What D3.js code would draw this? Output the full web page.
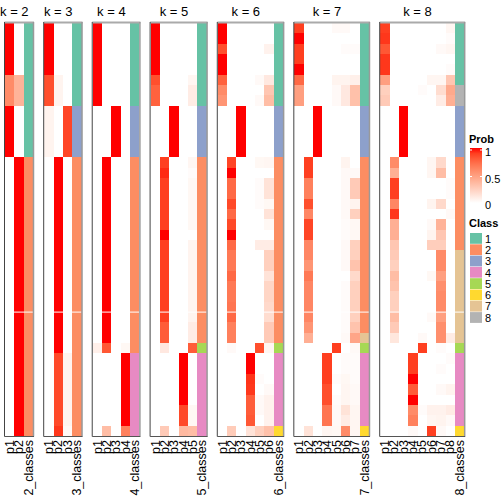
<!DOCTYPE html>
<html><head><meta charset="utf-8">
<script src="https://cdn.jsdelivr.net/npm/d3@7"></script>
<style>body{margin:0;background:#fff}svg{display:block}text{font-family:"Liberation Sans",Arial,sans-serif}</style>
</head><body><svg id="c" width="504" height="504"></svg>
<script>
const ks = [2,3,4,5,6,7,8];
const classColors = ["#66C2A5","#FC8D62","#8DA0CB","#E78AC3","#A6D854","#FFD92F","#E5C494","#B3B3B3"];
const classLabels = ["1","2","3","4","5","6","7","8"];
const probTicks = [0,0.5,1];

function rep(row,n){return Array.from({length:n},()=>row.slice());}

const memb2 = [].concat(
  rep([1,0],5), rep([0.6,0.4],3), rep([1,0],5), rep([0,1],27));
const memb3 = [].concat(
  rep([1,0,0],5), rep([0.85,0.06,0],3), rep([0.06,0,0.88],5), rep([0,1,0],19),
  rep([0,0.87,0.06],7), [[0,0.92,0.03]]);
const memb4 = [].concat(
  rep([1,0,0,0],8), rep([0,0,1,0],5), rep([0,1,0,0],18), [[0.08,0.82,0,0.04]],
  rep([0,0,0,1],7), [[0,0.35,0,0.65]]);
const memb5 = [
  [1,0,0,0,0],[1,0,0,0,0],[1,0,0,0,0],[1,0,0,0,0],[1,0,0,0,0],
  [0.85,0,0,0,0.05],[0.78,0,0,0,0.1],[0.78,0,0,0,0.1],
  [0,0,1,0,0],[0,0,1,0,0],[0,0,1,0,0],[0,0,1,0,0],[0,0,1,0,0],
  [0,0.9,0,0,0.05],[0,0.95,0,0,0.02],[0,0.9,0,0,0.04],[0,0.9,0,0,0.04],[0,0.9,0,0,0.04],
  [0,0.9,0,0,0.04],[0,0.9,0,0,0.04],[0,1,0,0,0],[0,0.9,0,0,0.06],[0,0.9,0,0,0.06],
  [0,0.9,0,0,0.06],[0,0.9,0,0,0.06],[0,0.9,0,0,0.06],[0,0.9,0,0,0.06],[0,0.9,0,0,0.06],
  [0,0.9,0,0,0.06],[0,0.8,0,0,0.1],[0,0.8,0,0,0.1],
  [0,0.12,0,0,0.8],
  [0,0,0,1,0],[0,0,0,1,0],[0,0,0,1,0],[0,0,0,1,0],[0,0,0,1,0],
  [0,0,0,0.87,0.04],[0,0,0,0.87,0.04],
  [0,0.28,0,0.37,0.35]];
const memb6 = [
  [1,0,0,0,0,0],[1,0,0,0,0,0],[0.85,0,0,0,0,0.07],[1,0,0,0,0,0],[1,0,0,0,0,0],
  [0.78,0,0,0,0.03,0.12],[0.6,0,0,0,0,0.3],[0.55,0,0,0,0.03,0.35],
  [0,0,1,0,0,0],[0,0,1,0,0,0],[0,0,1,0,0,0],[0,0,1,0,0,0],[0,0,1,0,0,0],
  [0,0.88,0,0,0.04,0.05],[0,1,0,0,0,0],[0,0.75,0,0,0.02,0.15],[0,0.75,0,0,0.02,0.15],
  [0,0.87,0,0,0.02,0.04],[0,0.75,0,0,0,0.15],[0,0.87,0,0,0,0.04],[0,1,0,0,0,0],
  [0,0.75,0,0,0.1,0.1],[0,0.68,0,0,0,0.25],[0,0.68,0,0,0,0.25],[0,0.75,0,0,0,0.15],
  [0,0.68,0,0,0,0.22],[0,0.68,0,0,0,0.22],[0,0.7,0,0,0,0.2],[0,0.75,0,0,0,0.18],
  [0,0.65,0,0,0,0.28],[0,0.65,0,0,0,0.28],
  [0,0.03,0,0,0.85,0.05],
  [0,0,0,1,0,0],[0,0,0,1,0,0],[0,0,0,0.93,0.02,0],[0,0,0,0.92,0,0.03],
  [0,0,0,0.8,0.03,0.07],[0,0,0,0.8,0.03,0.07],[0,0,0,0.82,0,0.07],
  [0,0.27,0,0.15,0.25,0.33]];
const memb7 = [
  [0.9,0,0,0,0.03,0.03,0],[1,0,0,0,0,0,0],[0.9,0,0,0,0,0.02,0.02],[0.9,0,0,0,0,0,0],[1,0,0,0,0,0,0],
  [0.75,0,0,0,0.06,0.06,0.08],[0.5,0,0,0,0.03,0.12,0.33],[0.5,0,0,0,0.03,0.12,0.33],
  [0,0,1,0,0,0,0],[0,0,1,0,0,0,0],[0,0,1,0,0,0,0],[0,0,1,0,0,0,0],[0,0,1,0,0,0,0],
  [0,0.9,0,0,0,0.06,0],[0,0.9,0,0,0,0.03,0.03],[0,0.65,0,0,0,0.03,0.28],[0,0.65,0,0,0,0.03,0.28],
  [0,0.85,0,0,0,0.03,0.06],[0,0.62,0,0,0,0.03,0.25],[0,0.88,0,0,0,0.02,0.04],[0,0.88,0,0,0,0.02,0.04],
  [0,0.62,0,0,0,0.03,0.25],[0,0.62,0,0,0,0.03,0.25],[0,0.55,0,0,0,0.03,0.32],[0,0.68,0,0,0,0,0.2],
  [0,0.62,0,0,0,0.02,0.25],[0,0.62,0,0,0,0.02,0.25],[0,0.62,0,0,0,0.02,0.25],[0,0.62,0,0,0,0.02,0.25],
  [0,0.55,0,0,0,0.02,0.32],[0,0.42,0,0,0,0.03,0.47],
  [0,0,0,0,0.9,0,0.03],
  [0,0,0,0.9,0,0.02,0.02],[0,0,0,0.9,0,0.02,0.02],[0,0,0,0.9,0.02,0.04,0.02],[0,0,0,0.85,0,0.05,0.03],
  [0,0,0,0.85,0.02,0.05,0.03],[0,0,0,0.7,0.03,0.15,0.05],[0,0,0,0.7,0.03,0.1,0.05],
  [0,0.15,0,0.05,0.04,0.6,0.05]];
const memb8 = [
  [0.9,0,0,0,0,0,0,0.05],[0.92,0,0,0,0,0,0,0.02],[0.82,0,0,0,0,0,0.03,0.05],[0.92,0,0,0,0,0,0,0],[0.92,0,0,0,0,0,0,0.02],
  [0.5,0,0,0,0,0.05,0.05,0.3],[0.25,0,0,0,0.02,0,0.18,0.45],[0.28,0,0,0,0,0,0.1,0.42],
  [0,0,1,0,0,0,0,0],[0,0,1,0,0,0,0,0],[0,0,1,0,0,0,0,0],[0,0,1,0,0,0,0,0],[0,0,1,0,0,0,0,0],
  [0,0.6,0,0,0,0.05,0.2,0],[0,0.42,0,0,0,0.05,0.35,0],[0,0.9,0,0,0,0,0,0.02],[0,0.9,0,0,0,0,0,0.02],
  [0,0.62,0,0,0,0.06,0.2,0],[0,0.92,0,0,0,0,0,0.03],[0,0.42,0,0,0,0.03,0.4,0],[0,0.42,0,0,0,0.06,0.3,0],
  [0,0.3,0,0,0,0.26,0.26,0],
  [0,0.28,0,0,0,0,0.6,0],[0,0.25,0,0,0,0,0.6,0],[0,0.35,0,0,0,0.04,0.5,0],[0,0.32,0,0,0,0,0.58,0],
  [0,0.25,0,0,0,0,0.6,0],[0,0.25,0,0,0,0,0.6,0],[0,0.35,0,0,0,0.03,0.5,0],[0,0.28,0,0,0,0,0.58,0],
  [0,0.13,0,0,0.03,0,0.58,0.1],
  [0,0,0,0,0.9,0,0.02,0],
  [0,0,0,0.9,0,0,0,0.02],[0,0,0,0.9,0,0,0.02,0],[0,0,0,1,0,0,0,0],[0,0,0,0.8,0,0,0.03,0.06],
  [0,0,0,1,0,0,0,0],[0,0,0,0.6,0.02,0.07,0.07,0.1],[0,0,0,0.65,0,0.05,0.06,0.03],
  [0,0,0,0.03,0,0.9,0.03,0]];

function seq(parts){const a=[];parts.forEach(([c,n])=>{for(let i=0;i<n;i++)a.push(c);});return a;}
const class2 = seq([[1,13],[2,27]]);
const class3 = seq([[1,8],[3,5],[2,27]]);
const class4 = seq([[1,8],[3,5],[2,19],[4,8]]);
const class5 = seq([[1,8],[3,5],[2,18],[5,1],[4,8]]);
const class6 = seq([[1,8],[3,5],[2,18],[5,1],[4,7],[6,1]]);
const class7 = seq([[1,8],[3,5],[2,17],[7,1],[5,1],[4,7],[6,1]]);
const class8 = seq([[1,6],[8,2],[3,5],[2,9],[7,9],[5,1],[4,7],[6,1]]);

const membs = {2:memb2,3:memb3,4:memb4,5:memb5,6:memb6,7:memb7,8:memb8};
const classes = {2:class2,3:class3,4:class4,5:class5,6:class6,7:class7,8:class8};

const svg = d3.select("#c");
const nRows = 40;
const y = d3.scaleBand().domain(d3.range(nRows)).range([23, 436]);
const colW = 9.333, gap = 11.2, x0 = 5;
const probColor = d3.scaleLinear().domain([0,1]).range(["#ffffff","#ff0000"]).interpolate(d3.interpolateLab);

let cur = x0;
ks.forEach(k => {
  const cols = d3.range(1,k+1).map(i=>"p"+i).concat([k+"_classes"]);
  const w = cols.length*colW;
  const x = d3.scaleBand().domain(cols).range([cur, cur+w]);
  const g = svg.append("g");
  const data = membs[k];
  data.forEach((row, r) => {
    row.forEach((v, j) => {
      g.append("rect").attr("x", x("p"+(j+1))).attr("y", y(r))
        .attr("width", x.bandwidth()+0.3).attr("height", y.bandwidth()+0.3)
        .attr("fill", probColor(v)).attr("shape-rendering","crispEdges");
    });
    g.append("rect").attr("x", x(k+"_classes")).attr("y", y(r))
      .attr("width", x.bandwidth()).attr("height", y.bandwidth()+0.3)
      .attr("fill", classColors[classes[k][r]-1]).attr("shape-rendering","crispEdges");
  });
  // white split line artefact
  g.append("line").attr("x1", cur).attr("x2", cur+w).attr("y1", y(28)).attr("y2", y(28))
    .attr("stroke","#fff").attr("stroke-width",1);
  // border
  const top = y.range()[0], bot = y.range()[1];
  g.append("line").attr("x1",cur-0.5).attr("x2",cur+w+1).attr("y1",top-0.5).attr("y2",top-0.5).attr("stroke","#aaa").attr("stroke-width",2);
  g.append("line").attr("x1",cur+w+0.5).attr("x2",cur+w+0.5).attr("y1",top-1).attr("y2",bot+0.5).attr("stroke","#999").attr("stroke-width",1.5);
  g.append("line").attr("x1",cur-0.5).attr("x2",cur-0.5).attr("y1",top-1).attr("y2",bot+0.5).attr("stroke","#444").attr("stroke-width",1);
  g.append("line").attr("x1",cur-0.5).attr("x2",cur+w+1).attr("y1",bot+0.5).attr("y2",bot+0.5).attr("stroke","#555").attr("stroke-width",1);
  // title centred over prob columns
  const pMid = cur + (k*colW)/2;
  g.append("text").attr("x", pMid).attr("y", 15.5).attr("text-anchor","middle")
    .attr("font-size", 13).text("k = " + k);
  // column labels
  cols.forEach(c => {
    const cx = x(c) + x.bandwidth()/2;
    g.append("text").attr("transform", `translate(${cx+4.3},440) rotate(-90)`)
      .attr("text-anchor","end").attr("font-size", 12.5).text(c);
  });
  cur += w + gap;
});

// Prob legend
const lx = 470;
svg.append("text").attr("x", lx-1).attr("y", 142.5).attr("font-size", 11).attr("font-weight","bold").text("Prob");
const defs = svg.append("defs");
const grad = defs.append("linearGradient").attr("id","pg").attr("x1",0).attr("y1",1).attr("x2",0).attr("y2",0);
d3.range(0,1.0001,0.1).forEach(t => grad.append("stop").attr("offset", t).attr("stop-color", probColor(t)));
const ly = d3.scaleLinear().domain([0,1]).range([203,150]);
svg.append("rect").attr("x", lx).attr("y", 148).attr("width", 12).attr("height", 203-148).attr("fill","url(#pg)");
probTicks.forEach(t => {
  svg.append("line").attr("x1",lx).attr("x2",lx+2).attr("y1",ly(t)).attr("y2",ly(t)).attr("stroke","#fff");
  svg.append("line").attr("x1",lx+10).attr("x2",lx+12).attr("y1",ly(t)).attr("y2",ly(t)).attr("stroke","#fff");
  svg.append("text").attr("x", lx+15).attr("y", ly(t)+6).attr("font-size", 11).text(t===0.5?"0.5":String(t));
});

// Class legend
svg.append("text").attr("x", lx-1).attr("y", 227).attr("font-size", 11).attr("font-weight","bold").text("Class");
const cy = d3.scaleBand().domain(classLabels).range([233, 233+8*11.3]);
classLabels.forEach((c,i) => {
  svg.append("rect").attr("x", lx).attr("y", cy(c)).attr("width", 12).attr("height", cy.bandwidth()-0.5).attr("fill", classColors[i]);
  svg.append("text").attr("x", lx+15).attr("y", cy(c)+cy.bandwidth()/2+4).attr("font-size", 11).text(c);
});
</script></body></html>
